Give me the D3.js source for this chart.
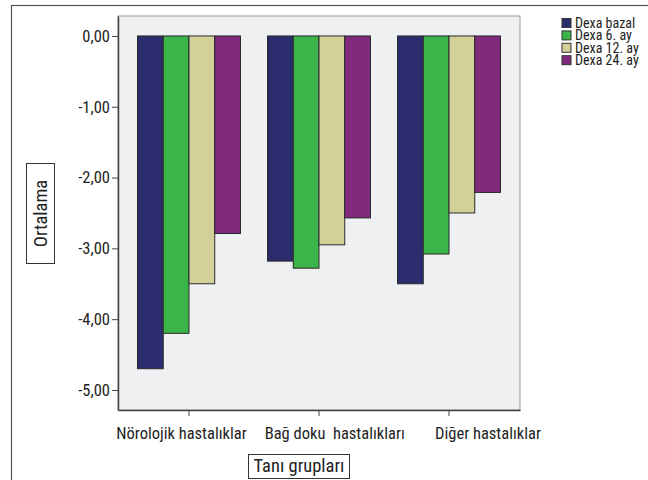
<!DOCTYPE html>
<html>
<head>
<meta charset="utf-8">
<script src="https://cdn.jsdelivr.net/npm/d3@7"></script>
<style>
  body { margin: 0; background: #fff; }
  text { font-family: "Liberation Sans Narrow", "Roboto Condensed", "Liberation Sans", sans-serif; fill: #1e1e1e; }
</style>
</head>
<body>
<div id="chart"></div>
<script>
const groups = ["Nörolojik hastalıklar", "Bağ doku  hastalıkları", "Diğer hastalıklar"];
const series = ["Dexa bazal", "Dexa 6. ay", "Dexa 12. ay", "Dexa 24. ay"];
const colors = ["#2b2c6e", "#3bb54a", "#d4d09a", "#7f2a7d"];
const bazal = [-4.70, -3.18, -3.50];
const ay6 = [-4.20, -3.28, -3.08];
const ay12 = [-3.50, -2.95, -2.50];
const ay24 = [-2.79, -2.57, -2.21];
const yTicks = [0, -1, -2, -3, -4, -5];

const values = [bazal, ay6, ay12, ay24];
const data = groups.map((g, gi) => ({ group: g, vals: series.map((s, si) => ({ key: s, value: values[si][gi], i: si })) }));

const width = 648, height = 480;
const plot = { left: 118, right: 520, top: 16, bottom: 410 };

const svg = d3.select("#chart")
    .append("svg")
    .attr("width", width)
    .attr("height", height);

// outer frame (cut off on the right and bottom)
svg.append("rect")
    .attr("x", 11.5).attr("y", 5.5)
    .attr("width", 700).attr("height", 600)
    .attr("fill", "none")
    .attr("stroke", "#555")
    .attr("stroke-width", 1.2);

const x = d3.scaleBand()
    .domain(groups)
    .range([plot.left, plot.right])
    .paddingInner(0.208)
    .paddingOuter(0.15);

const xs = d3.scaleBand()
    .domain(series)
    .range([0, x.bandwidth()]);

// category labels sit a bit wider apart than the ticks in the original
const xl = d3.scalePoint()
    .domain(groups)
    .range([181.5, 488]);

const y = d3.scaleLinear()
    .domain([0.282, -5.283])
    .range([plot.top, plot.bottom]);

// plot background
svg.append("rect")
    .attr("x", plot.left).attr("y", plot.top)
    .attr("width", plot.right - plot.left)
    .attr("height", plot.bottom - plot.top)
    .attr("fill", "#eff0f2")
    .attr("stroke", "#9a9a9a")
    .attr("stroke-width", 1);

// bars
const g = svg.selectAll(".grp")
    .data(data)
    .enter()
    .append("g")
    .attr("class", "grp")
    .attr("transform", d => `translate(${x(d.group)},0)`);

g.selectAll("rect")
    .data(d => d.vals)
    .enter()
    .append("rect")
    .attr("x", d => xs(d.key))
    .attr("width", xs.bandwidth())
    .attr("y", y(0))
    .attr("height", d => y(d.value) - y(0))
    .attr("fill", d => colors[d.i])
    .attr("stroke", "#2a2a2a")
    .attr("stroke-width", 1);

// axes
const yAxis = d3.axisLeft(y)
    .tickValues(yTicks)
    .tickFormat(d => d3.format(".2f")(d).replace(".", ",").replace("−", "-"))
    .tickSize(6)
    .tickSizeOuter(0);

const ya = svg.append("g")
    .attr("transform", `translate(${plot.left},0)`)
    .call(yAxis);
ya.select(".domain").attr("stroke", "#444").attr("stroke-width", 1.5);
ya.selectAll(".tick line").attr("stroke", "#444");
ya.selectAll(".tick text").attr("font-size", 16.5).attr("x", -8);

const xAxis = d3.axisBottom(x).tickSize(6).tickSizeOuter(0);
const xa = svg.append("g")
    .attr("transform", `translate(0,${plot.bottom})`)
    .call(xAxis);
xa.select(".domain").attr("stroke", "#444").attr("stroke-width", 1.5);
xa.selectAll(".tick line").attr("stroke", "#444");
xa.selectAll(".tick text")
    .attr("font-size", 16.5)
    .attr("dy", 0)
    .attr("y", 29)
    .attr("x", d => xl(d) - (x(d) + x.bandwidth() / 2))
    .style("white-space", "pre");

// axis titles in boxes
svg.append("rect")
    .attr("x", 26.5).attr("y", 163.5)
    .attr("width", 28).attr("height", 100)
    .attr("fill", "#fff").attr("stroke", "#333");
svg.append("text")
    .attr("transform", "translate(47,213.5) rotate(-90)")
    .attr("text-anchor", "middle")
    .attr("font-size", 18.5)
    .text("Ortalama");

svg.append("rect")
    .attr("x", 248.5).attr("y", 454.5)
    .attr("width", 101).attr("height", 24)
    .attr("fill", "#fff").attr("stroke", "#333");
svg.append("text")
    .attr("x", 299).attr("y", 472)
    .attr("text-anchor", "middle")
    .attr("font-size", 18.5)
    .text("Tanı grupları");

// legend
const leg = svg.selectAll(".leg")
    .data(series)
    .enter()
    .append("g")
    .attr("class", "leg")
    .attr("transform", (d, i) => `translate(562,${18.5 + i * 12.4})`);
leg.append("rect")
    .attr("width", 9).attr("height", 9)
    .attr("fill", (d, i) => colors[i])
    .attr("stroke", "#333");
leg.append("text")
    .attr("x", 13).attr("y", 9.5)
    .attr("font-size", 14)
    .text(d => d);
</script>
</body>
</html>
